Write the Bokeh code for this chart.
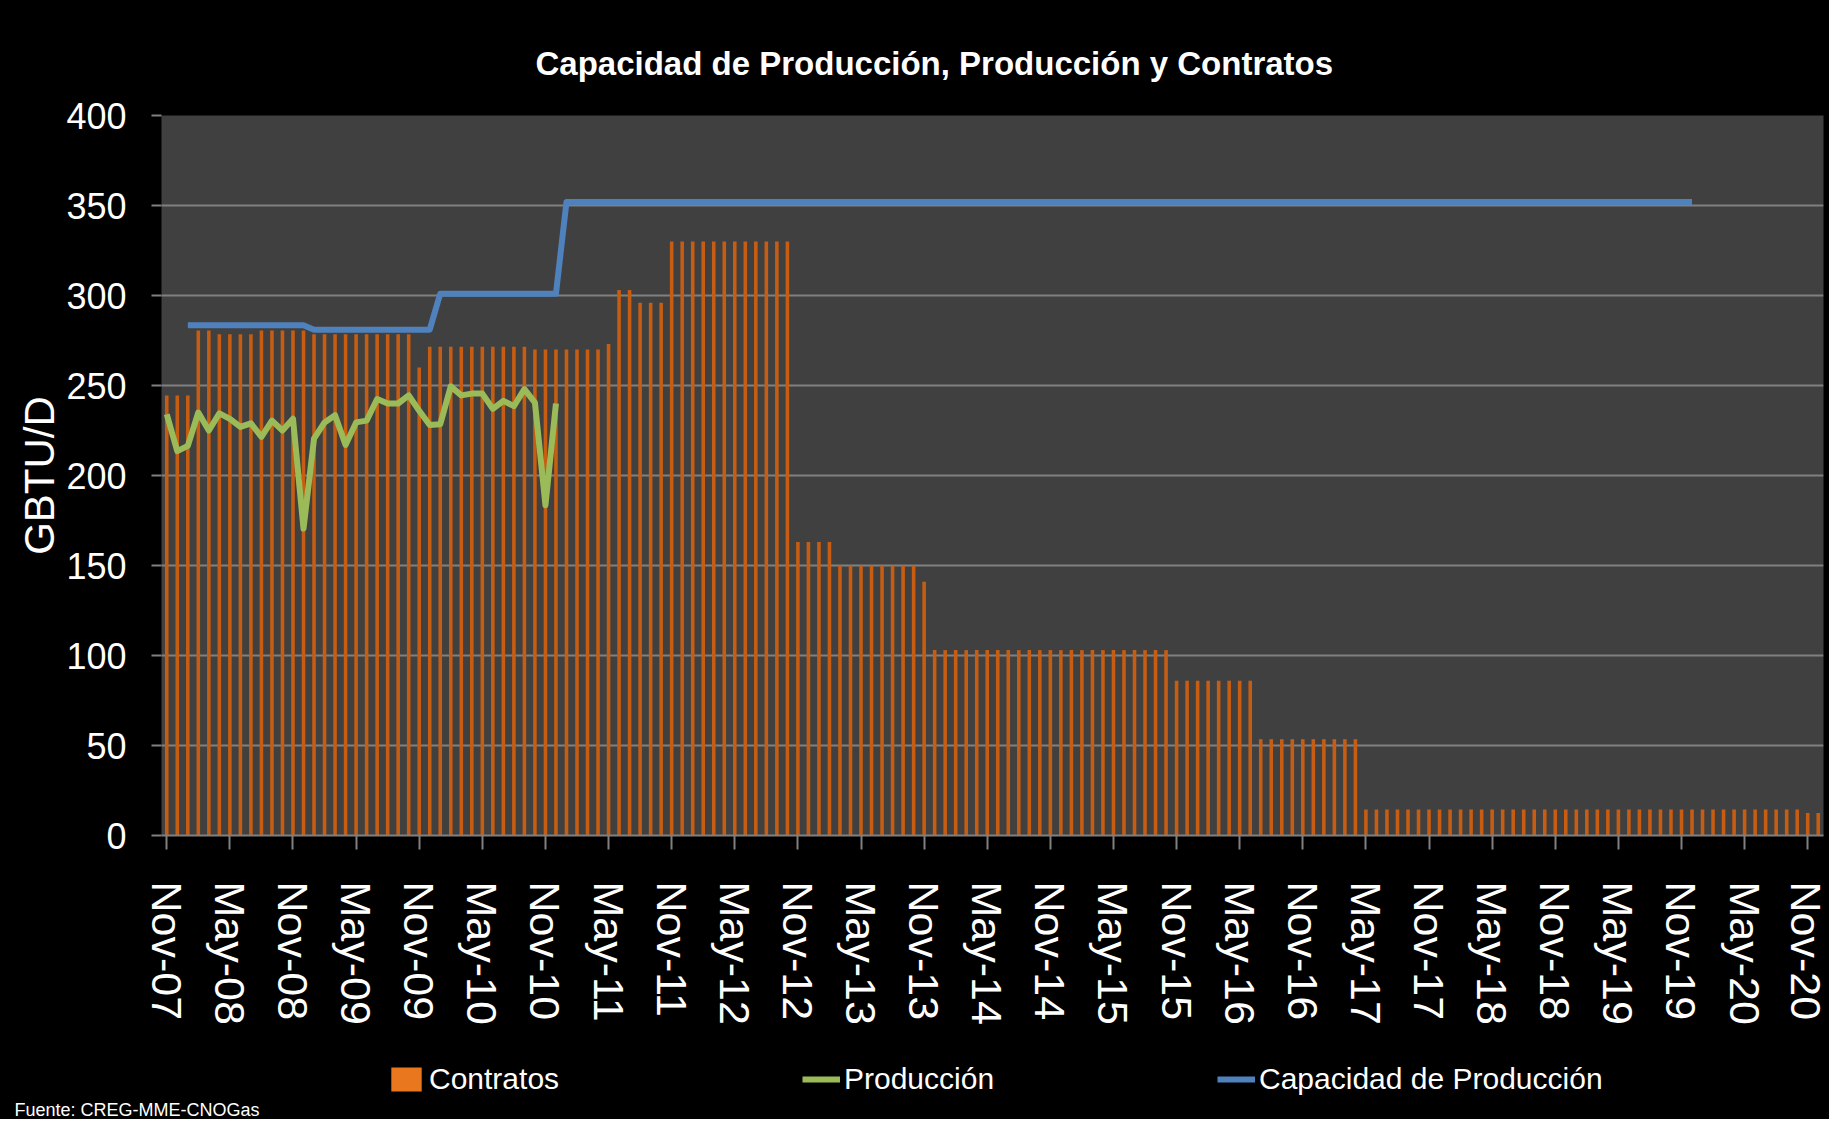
import pandas as pd
from bokeh.plotting import figure
from bokeh.layouts import column
from bokeh.models import (ColumnDataSource, Range1d, FixedTicker, Legend,
                          LegendItem, Title)
from bokeh.embed import file_html
from bokeh.resources import INLINE

# ---------------- data ----------------
# monthly categories, Nov-07 .. Dec-20
months = list(pd.date_range("2007-11-01", periods=158, freq="MS").strftime("%b-%y"))

tick_labels = ["Nov-07", "May-08", "Nov-08", "May-09", "Nov-09", "May-10", "Nov-10",
               "May-11", "Nov-11", "May-12", "Nov-12", "May-13", "Nov-13", "May-14",
               "Nov-14", "May-15", "Nov-15", "May-16", "Nov-16", "May-17", "Nov-17",
               "May-18", "Nov-18", "May-19", "Nov-19", "May-20", "Nov-20"]

contratos = [
    244.5, 244.5, 244.5, 280.5, 280.5, 278.5, 278.5, 278.5, 278.5, 280.5, 280.5, 280.5,
    280.5, 280.5, 278.5, 278.5, 278.5, 278.5, 278.5, 278.5, 278.5, 278.5, 278.5, 278.5,
    260.0, 271.5, 271.5, 271.5, 271.5, 271.5, 271.5, 271.5, 271.5, 271.5, 271.5, 270.0,
    270.0, 270.0, 270.0, 270.0, 270.0, 270.0, 273.0, 303.0, 303.0, 296.0, 296.0, 296.0,
    330.0, 330.0, 330.0, 330.0, 330.0, 330.0, 330.0, 330.0, 330.0, 330.0, 330.0, 330.0,
    163.0, 163.0, 163.0, 163.0, 150.0, 150.0, 150.0, 150.0, 150.0, 150.0, 150.0, 150.0,
    141.0, 103.0, 103.0, 103.0, 103.0, 103.0, 103.0, 103.0, 103.0, 103.0, 103.0, 103.0,
    103.0, 103.0, 103.0, 103.0, 103.0, 103.0, 103.0, 103.0, 103.0, 103.0, 103.0, 103.0,
    86.0, 86.0, 86.0, 86.0, 86.0, 86.0, 86.0, 86.0, 53.5, 53.5, 53.5, 53.5,
    53.5, 53.5, 53.5, 53.5, 53.5, 53.5, 14.5, 14.5, 14.5, 14.5, 14.5, 14.5,
    14.5, 14.5, 14.5, 14.5, 14.5, 14.5, 14.5, 14.5, 14.5, 14.5, 14.5, 14.5,
    14.5, 14.5, 14.5, 14.5, 14.5, 14.5, 14.5, 14.5, 14.5, 14.5, 14.5, 14.5,
    14.5, 14.5, 14.5, 14.5, 14.5, 14.5, 14.5, 14.5, 14.5, 14.5, 14.5, 14.5,
    12.5, 12.5,
]

# Producción: Nov-07 .. Dec-10
produccion = [
    234.0, 213.5, 216.5, 235.0, 225.0, 234.5, 231.5, 227.0, 229.0, 221.5, 230.5, 225.0,
    231.5, 170.5, 220.5, 229.5, 233.5, 217.0, 229.5, 230.5, 242.5, 240.0, 240.0, 244.5,
    236.0, 228.0, 228.5, 249.5, 244.5, 245.5, 245.5, 237.0, 241.5, 238.5, 248.0, 240.5,
    183.5, 240.0,
]
prod_start = "Nov-07"

# Capacidad de Producción: Jan-08 .. Dec-19
capacidad = [
    283.5, 283.5, 283.5, 283.5, 283.5, 283.5, 283.5, 283.5, 283.5, 283.5, 283.5, 283.5,
    281.0, 281.0, 281.0, 281.0, 281.0, 281.0, 281.0, 281.0, 281.0, 281.0, 281.0, 281.0,
    301.0, 301.0, 301.0, 301.0, 301.0, 301.0, 301.0, 301.0, 301.0, 301.0, 301.0, 301.0,
    352.0, 352.0, 352.0, 352.0, 352.0, 352.0, 352.0, 352.0, 352.0, 352.0, 352.0, 352.0,
    352.0, 352.0, 352.0, 352.0, 352.0, 352.0, 352.0, 352.0, 352.0, 352.0, 352.0, 352.0,
    352.0, 352.0, 352.0, 352.0, 352.0, 352.0, 352.0, 352.0, 352.0, 352.0, 352.0, 352.0,
    352.0, 352.0, 352.0, 352.0, 352.0, 352.0, 352.0, 352.0, 352.0, 352.0, 352.0, 352.0,
    352.0, 352.0, 352.0, 352.0, 352.0, 352.0, 352.0, 352.0, 352.0, 352.0, 352.0, 352.0,
    352.0, 352.0, 352.0, 352.0, 352.0, 352.0, 352.0, 352.0, 352.0, 352.0, 352.0, 352.0,
    352.0, 352.0, 352.0, 352.0, 352.0, 352.0, 352.0, 352.0, 352.0, 352.0, 352.0, 352.0,
    352.0, 352.0, 352.0, 352.0, 352.0, 352.0, 352.0, 352.0, 352.0, 352.0, 352.0, 352.0,
    352.0, 352.0, 352.0, 352.0, 352.0, 352.0, 352.0, 352.0, 352.0, 352.0, 352.0, 352.0,
]
cap_start = "Jan-08"

y_ticks = [0, 50, 100, 150, 200, 250, 300, 350, 400]

# ---------------- styles ----------------
FONT = "Liberation Sans"
C_BAR = "#C65D12"
C_BAR_LEG = "#E8771E"
C_PROD = "#9BBB59"
C_CAP = "#4F81BD"
W = 1829
H_MAIN, H_LEG = 1045, 74

# ---------------- main chart ----------------
idx = {m: i for i, m in enumerate(months)}
src_c = ColumnDataSource(dict(x=list(range(len(contratos))), top=contratos))
p0 = idx[prod_start]
src_p = ColumnDataSource(dict(x=list(range(p0, p0 + len(produccion))), y=produccion))
c0 = idx[cap_start]
src_k = ColumnDataSource(dict(x=list(range(c0, c0 + len(capacidad))), y=capacidad))

p = figure(width=W, height=H_MAIN, output_backend="svg", toolbar_location=None,
           x_range=Range1d(-0.5, len(months) - 0.5), y_range=Range1d(0, 400),
           min_border_left=161, min_border_right=6, min_border_top=115,
           min_border_bottom=H_MAIN - 835)
p.background_fill_color = "#404040"
p.border_fill_color = "black"
p.outline_line_color = None

p.title.text = "Capacidad de Producción, Producción y Contratos"
p.title.align = "left"
p.title.offset = 374
p.title.standoff = 67
p.title.text_font = FONT
p.title.text_font_style = "bold"
p.title.text_font_size = "33px"
p.title.text_color = "white"

p.vbar(x="x", top="top", width=0.34, source=src_c, fill_color=C_BAR, line_color=None)
p.line(x="x", y="y", source=src_p, line_color=C_PROD, line_width=6, line_join="round")
p.line(x="x", y="y", source=src_k, line_color=C_CAP, line_width=6, line_join="round")

tick_pos = [idx[t] for t in tick_labels]
xa = p.xaxis[0]
xa.ticker = FixedTicker(ticks=tick_pos)
xa.major_label_overrides = {tp: t for tp, t in zip(tick_pos, tick_labels)}
xa.major_label_orientation = "vertical"
xa.major_label_text_font = FONT
xa.major_label_text_font_size = "43px"
xa.major_label_text_color = "white"
xa.major_label_standoff = 32
xa.axis_line_color = "#808080"
xa.axis_line_width = 2
xa.major_tick_line_color = "#808080"
xa.major_tick_line_width = 2
xa.major_tick_out = 14
xa.major_tick_in = 0
xa.minor_tick_line_color = None

ya = p.yaxis[0]
ya.ticker = FixedTicker(ticks=y_ticks)
ya.major_label_text_font = FONT
ya.major_label_text_font_size = "36px"
ya.major_label_text_color = "white"
ya.major_label_standoff = 25
ya.axis_line_color = None
ya.major_tick_line_color = "#808080"
ya.major_tick_line_width = 2
ya.major_tick_out = 10
ya.major_tick_in = 0
ya.minor_tick_line_color = None
ya.axis_label = "GBTU/D"
ya.axis_label_text_font = FONT
ya.axis_label_text_font_style = "normal"
ya.axis_label_text_font_size = "42px"
ya.axis_label_text_color = "white"
ya.axis_label_standoff = 0

p.xgrid.grid_line_color = None
p.ygrid.ticker = FixedTicker(ticks=y_ticks)
p.ygrid.grid_line_color = "#808080"
p.ygrid.grid_line_width = 2

# ---------------- legend strip ----------------
leg = figure(width=W, height=H_LEG, output_backend="svg", toolbar_location=None,
             x_range=Range1d(0, 1), y_range=Range1d(0, 1),
             min_border_left=161, min_border_right=6, min_border_top=0,
             min_border_bottom=0, x_axis_location=None, y_axis_location=None)
leg.title.visible = False
leg.grid.visible = False
leg.outline_line_color = None
leg.background_fill_color = "black"
leg.border_fill_color = "black"

nan = float("nan")
key_b = ColumnDataSource(dict(x=[nan], top=[nan]))
key_l = ColumnDataSource(dict(x=[nan], y=[nan]))
gb = leg.vbar(x="x", top="top", width=0.3, source=key_b, fill_color=C_BAR_LEG,
              line_color=None)
gp = leg.line(x="x", y="y", source=key_l, line_color=C_PROD, line_width=6)
gk = leg.line(x="x", y="y", source=key_l, line_color=C_CAP, line_width=6)

legend = Legend(items=[LegendItem(label="Contratos", renderers=[gb]),
                       LegendItem(label="Producción", renderers=[gp]),
                       LegendItem(label="Capacidad de Producción", renderers=[gk])],
                orientation="horizontal", location=(226, 1),
                background_fill_alpha=0, border_line_color=None,
                label_text_color="white", label_text_font=FONT,
                label_text_font_size="30px", glyph_width=38, glyph_height=30,
                spacing=35, label_width=338, label_standoff=4, padding=0, margin=0)
leg.add_layout(legend, "center")

leg.add_layout(Title(text="Fuente: CREG-MME-CNOGas", align="left", offset=-147,
                     standoff=0, text_font=FONT, text_font_style="normal",
                     text_font_size="18px", text_color="white"), "below")

layout = column(p, leg, spacing=0, styles={"background-color": "black"})
open("out.html", "w").write(file_html(layout, INLINE))
